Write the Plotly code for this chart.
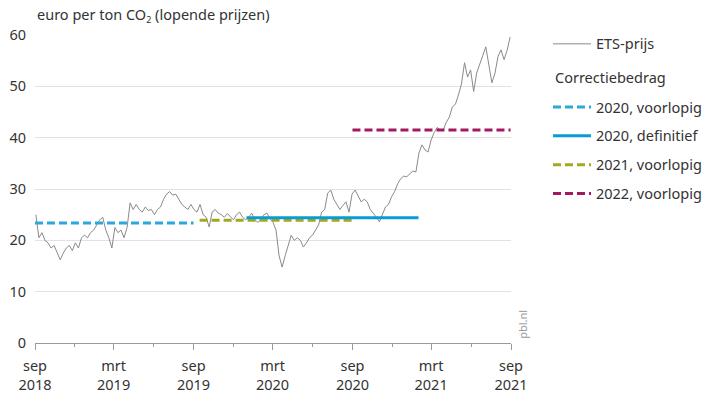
import pandas as pd
import plotly.graph_objects as go

# Weekly ETS price (euro per ton CO2), Sep 2018 - Sep 2021
ets_prijs = [
    25.0, 20.5, 21.5, 20.0,                 # sep 2018
    19.5, 18.5, 19.0, 17.5, 16.2,           # okt
    17.5, 18.5, 19.0, 18.0,                 # nov
    19.5, 18.5, 20.5, 21.0,                 # dec
    20.5, 21.5, 22.0, 23.0, 24.0,           # jan 2019
    24.5, 22.0, 20.5, 18.5,                 # feb
    22.5, 21.5, 22.0, 20.5,                 # mrt
    22.5, 27.3, 26.0, 27.0, 26.0,           # apr
    25.5, 26.5, 25.8, 26.0,                 # mei
    25.0, 26.0, 26.5, 28.0, 29.0,           # jun
    29.5, 28.8, 29.0, 28.0,                 # jul
    27.0, 26.5, 26.0, 27.0,                 # aug
    26.0, 25.5, 27.0, 25.0, 24.5,           # sep 2019
    22.6, 25.5, 26.0, 25.3,                 # okt
    25.0, 24.5, 25.2, 24.5,                 # nov
    24.0, 25.0, 25.5, 24.5, 24.0,           # dec
    24.5, 25.3, 24.0, 23.5,                 # jan 2020
    24.0, 25.0, 25.3, 24.2,                 # feb
    23.5, 22.0, 17.0, 14.8, 17.0,           # mrt
    19.0, 21.0, 20.0, 20.5,                 # apr
    20.0, 18.7, 19.5, 20.5,                 # mei
    21.0, 22.0, 23.0, 25.5, 26.0,           # jun
    29.2, 29.8, 28.0, 27.0,                 # jul
    26.0, 26.8, 27.5, 25.5,                 # aug
    29.0, 29.8, 28.5, 27.5, 28.0,           # sep 2020
    27.5, 26.0, 25.3, 24.5,                 # okt
    23.6, 25.0, 26.5, 27.0,                 # nov
    28.5, 29.5, 31.0, 32.0, 32.5,           # dec
    32.4, 33.0, 33.5, 33.3,                 # jan 2021
    37.0, 38.6, 37.6, 37.2,                 # feb
    39.5, 41.0, 42.0, 41.5, 41.5,           # mrt
    43.0, 44.0, 46.0, 46.5,                 # apr
    48.3, 50.5, 54.6, 51.8,                 # mei
    53.2, 49.0, 52.6, 54.5,                 # jun
    56.0, 57.7, 53.8, 50.7, 52.5,           # jul
    55.8, 57.1, 55.2, 57.0,                 # aug
    59.6,                                   # sep 2021
]
ets_datums = pd.date_range("2018-09-03", periods=len(ets_prijs), freq="7D")

# Correction amounts (start, end, value)
reeks_namen = ["2020, voorlopig", "2020, definitief", "2021, voorlopig", "2022, voorlopig"]
reeks_start = ["2018-09-01", "2020-01-01", "2019-09-15", "2020-09-01"]
reeks_eind = ["2019-09-01", "2021-01-31", "2020-09-01", "2021-08-31"]
reeks_waarde = [23.4, 24.4, 23.9, 41.5]
reeks_kleur = ["#2aa8dc", "#0a9ad8", "#a2a820", "#a5175e"]
reeks_dash = ["8px,4px", "solid", "8px,4px", "8px,4px"]

tick_vals = ["2018-09-01", "2019-03-01", "2019-09-01", "2020-03-01",
             "2020-09-01", "2021-03-01", "2021-09-01"]
tick_text = ["sep<br>2018", "mrt<br>2019", "sep<br>2019", "mrt<br>2020",
             "sep<br>2020", "mrt<br>2021", "sep<br>2021"]

FONT = "Noto Sans"
TXT = "#333333"
FS = 14.5

fig = go.Figure()
fig.add_trace(go.Scatter(
    x=ets_datums, y=ets_prijs, mode="lines", name="ETS-prijs",
    line=dict(color="#8a8a8a", width=1), legend="legend",
))
# draw order: 2020 voorlopig, 2021 voorlopig, 2020 definitief, 2022 voorlopig
for i in [0, 2, 1, 3]:
    fig.add_trace(go.Scatter(
        x=[reeks_start[i], reeks_eind[i]], y=[reeks_waarde[i]] * 2,
        mode="lines", name=reeks_namen[i],
        line=dict(color=reeks_kleur[i], width=3, dash=reeks_dash[i]),
        legend="legend2", legendgroup=reeks_namen[i], legendrank=i + 1,
    ))

fig.update_layout(
    width=709, height=401,
    margin=dict(l=35, r=198, t=35, b=58, autoexpand=False),
    paper_bgcolor="white", plot_bgcolor="white",
    font=dict(family=FONT, size=FS, color=TXT),
    showlegend=True,
    legend=dict(x=1.0777, xanchor="left", y=1.023, yanchor="top",
                itemwidth=38,
                font=dict(size=FS, color=TXT), bgcolor="rgba(0,0,0,0)"),
    legend2=dict(x=1.0777, xanchor="left", y=0.818, yanchor="top",
                 traceorder="grouped", tracegroupgap=7, itemwidth=38,
                 font=dict(size=FS, color=TXT), bgcolor="rgba(0,0,0,0)"),
    xaxis=dict(
        type="date", range=["2018-09-01", "2021-09-01"], automargin=False,
        tickvals=tick_vals, ticktext=tick_text,
        showgrid=False, zeroline=False,
        showline=True, linecolor="#9a9a9a", linewidth=1,
        ticks="outside", ticklen=6, tickcolor="#9a9a9a",
        ticklabelstandoff=4,
        minor=dict(dtick="M3", tick0="2018-09-01", ticks="outside",
                   ticklen=3, tickcolor="#9a9a9a", showgrid=False),
        tickfont=dict(size=FS, color=TXT),
    ),
    yaxis=dict(
        range=[0, 60], dtick=10, tick0=0, automargin=False,
        showgrid=True, gridcolor="#e2e2e2", gridwidth=1,
        zeroline=False, showline=False, ticks="",
        ticklabelstandoff=8,
        tickfont=dict(size=FS, color=TXT),
    ),
    annotations=[
        dict(text="euro per ton CO<sub><span style='font-size:9px'>2</span></sub> (lopende prijzen)",
             xref="paper", yref="paper", x=0, y=1.065,
             xanchor="left", yanchor="middle", showarrow=False,
             font=dict(size=FS, color=TXT)),
        dict(text="Correctiebedrag",
             xref="paper", yref="paper", x=1.088, y=0.864,
             xanchor="left", yanchor="middle", showarrow=False,
             font=dict(size=FS, color=TXT)),
        dict(text="pbl.nl", xref="paper", yref="paper", x=1.025, y=0.062,
             xanchor="center", yanchor="middle", textangle=-90,
             showarrow=False, font=dict(size=11, color="#9a9a9a")),
    ],
)

# remove the default page margin so the figure sits at the window's top-left
fig.write_html("out.html", config={"displayModeBar": False},
               post_script="document.body.style.margin='0';")
